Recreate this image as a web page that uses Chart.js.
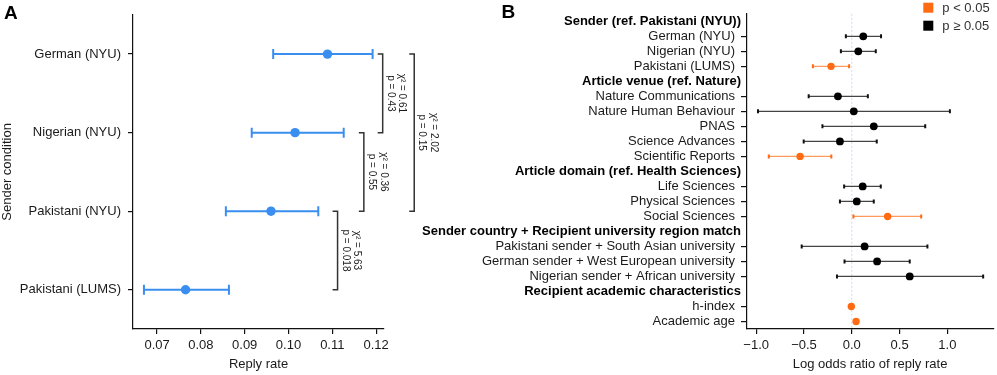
<!DOCTYPE html>
<html><head><meta charset="utf-8">
<script src="https://cdn.jsdelivr.net/npm/chart.js@4.4.1/dist/chart.umd.min.js"></script>
<style>
html,body{margin:0;padding:0;background:#fff;}
#wrap{position:relative;width:997px;height:375px;overflow:hidden;}
#cA{position:absolute;left:0;top:0;}
#cB{position:absolute;left:400px;top:0;}
</style></head><body>
<div id="wrap"><canvas id="cA" width="500" height="375"></canvas><canvas id="cB" width="597" height="375"></canvas></div>
<script>
// ---------- Panel A data ----------
const senderLabels = ['German (NYU)', 'Nigerian (NYU)', 'Pakistani (NYU)', 'Pakistani (LUMS)'];
const replyRate    = [0.1089, 0.1015, 0.0960, 0.0765];
const replyLow     = [0.0965, 0.0916, 0.0857, 0.0670];
const replyHigh    = [0.1192, 0.1126, 0.1068, 0.0864];
const replyTicks   = [0.07, 0.08, 0.09, 0.10, 0.11, 0.12];
// pairwise comparisons (row indices) and test results
const compFrom = [0, 1, 0, 2];
const compTo   = [1, 2, 2, 3];
const compChi  = ['0.61', '0.36', '2.02', '5.63'];
const compP    = ['0.43', '0.55', '0.15', '0.018'];

// ---------- Panel B data ----------
const rowLabels = [
  'Sender (ref. Pakistani (NYU))', 'German (NYU)', 'Nigerian (NYU)', 'Pakistani (LUMS)',
  'Article venue (ref. Nature)', 'Nature Communications', 'Nature Human Behaviour', 'PNAS', 'Science Advances', 'Scientific Reports',
  'Article domain (ref. Health Sciences)', 'Life Sciences', 'Physical Sciences', 'Social Sciences',
  'Sender country + Recipient university region match', 'Pakistani sender + South Asian university', 'German sender + West European university', 'Nigerian sender + African university',
  'Recipient academic characteristics', 'h-index', 'Academic age'
];
const rowIsHeader = [true,false,false,false, true,false,false,false,false,false, true,false,false,false, true,false,false,false, true,false,false];
const logOdds = [null, 0.120, 0.068, -0.217, null, -0.145, 0.021, 0.230, -0.124, -0.541, null, 0.114, 0.052, 0.375, null, 0.134, 0.265, 0.606, null, -0.005, 0.045];
const ciLow   = [null, -0.062, -0.114, -0.407, null, -0.451, -0.981, -0.307, -0.503, -0.868, null, -0.080, -0.124, 0.017, null, -0.524, -0.076, -0.155, null, -0.010, 0.025];
const ciHigh  = [null, 0.306, 0.251, -0.028, null, 0.168, 1.026, 0.768, 0.261, -0.214, null, 0.303, 0.230, 0.726, null, 0.791, 0.606, 1.374, null, 0.000, 0.065];
const pBelow05 = [null, false, false, true, null, false, false, false, false, true, null, false, false, true, null, false, false, false, null, true, true];
const logOddsTicks = [-1.0, -0.5, 0.0, 0.5, 1.0];
const legendLabels = ['p < 0.05', 'p \u2265 0.05'];

// ---------- Styles / layout ----------
const FONT = '"Liberation Sans", Arial, Helvetica, sans-serif';
const TXT = '#1a1a1a';
const AX = '#111';
const BLUE = '#3a8ef0';
const ORANGE = '#ff6a13';
const ORANGE_LINE = '#ff9a5c';
const BLACK_LINE = '#444';
const bracketX = [0.1215, 0.1172, 0.1287, 0.1112]; // bracket positions (x data units)

const fontN = {family: FONT, size: 13};

// ---------- Panel A plugin ----------
const plugA = {
  id: 'plugA',
  beforeDatasetsDraw(chart) {
    const {ctx, scales: {x, y}} = chart;
    ctx.save();
    ctx.strokeStyle = BLUE; ctx.lineWidth = 2;
    replyRate.forEach((v, i) => {
      const py = y.getPixelForValue(i);
      const x0 = x.getPixelForValue(replyLow[i]);
      const x1 = x.getPixelForValue(replyHigh[i]);
      ctx.beginPath();
      ctx.moveTo(x0, py); ctx.lineTo(x1, py);
      ctx.moveTo(x0, py - 5); ctx.lineTo(x0, py + 5);
      ctx.moveTo(x1, py - 5); ctx.lineTo(x1, py + 5);
      ctx.stroke();
    });
    ctx.restore();
  },
  afterDraw(chart) {
    const {ctx, scales: {x, y}} = chart;
    ctx.save();
    // brackets
    compFrom.forEach((f, k) => {
      const xb = x.getPixelForValue(bracketX[k]);
      const y0 = y.getPixelForValue(f);
      const y1 = y.getPixelForValue(compTo[k]);
      ctx.strokeStyle = '#333'; ctx.lineWidth = 1.5;
      ctx.beginPath();
      ctx.moveTo(xb - 5, y0); ctx.lineTo(xb, y0); ctx.lineTo(xb, y1); ctx.lineTo(xb - 5, y1);
      ctx.stroke();
      ctx.save();
      ctx.translate(xb + 13.7, (y0 + y1) / 2);
      ctx.rotate(Math.PI / 2);
      ctx.fillStyle = TXT;
      ctx.font = '10px ' + FONT;
      ctx.textAlign = 'center'; ctx.textBaseline = 'middle';
      ctx.fillText('\u03c7\u00b2 = ' + compChi[k], 0, -5.8);
      ctx.fillText('p = ' + compP[k], 0, 5.8);
      ctx.restore();
    });
    // panel letter
    ctx.fillStyle = '#000';
    ctx.font = 'bold 19px ' + FONT;
    ctx.textAlign = 'left'; ctx.textBaseline = 'alphabetic';
    ctx.fillText('A', 4, 19);
    ctx.restore();
  }
};

new Chart(document.getElementById('cA'), {
  type: 'scatter',
  data: {
    datasets: [{
      label: 'Reply rate',
      data: replyRate.map((v, i) => ({x: v, y: senderLabels[i]})),
      backgroundColor: BLUE, borderColor: BLUE, borderWidth: 0,
      pointRadius: 4.7, pointHoverRadius: 4.7
    }]
  },
  options: {
    responsive: false, animation: false,
    layout: {padding: {left: 0, right: 116, top: 8, bottom: 0}},
    plugins: {legend: {display: false}, tooltip: {enabled: false}},
    scales: {
      x: {
        type: 'linear', min: 0.0645, max: 0.1218,
        afterBuildTicks: s => { s.ticks = replyTicks.map(v => ({value: v})); },
        afterFit: s => { s.height = 46; },
        ticks: {callback: v => Number(v).toFixed(2), font: fontN, color: TXT, padding: 4, maxRotation: 0, autoSkip: false},
        grid: {drawOnChartArea: false, drawTicks: true, tickLength: 5, color: AX, lineWidth: 1.2},
        border: {display: true, color: AX, width: 1.2},
        title: {display: true, text: 'Reply rate', font: fontN, color: TXT, padding: {top: 0, bottom: 3}}
      },
      y: {
        type: 'category', labels: senderLabels, offset: true,
        afterFit: s => { s.width = 133; },
        ticks: {font: fontN, color: TXT, padding: 7, autoSkip: false},
        grid: {offset: false, drawOnChartArea: false, drawTicks: true, tickLength: 5, color: AX, lineWidth: 1.2},
        border: {display: true, color: AX, width: 1.2},
        title: {display: true, text: 'Sender condition', font: fontN, color: TXT, padding: {top: 0, bottom: 0}}
      }
    }
  },
  plugins: [plugA]
});

// ---------- Panel B plugin ----------
const plugB = {
  id: 'plugB',
  beforeDatasetsDraw(chart) {
    const {ctx, chartArea, scales: {x, y}} = chart;
    ctx.save();
    // zero reference line
    const x0 = x.getPixelForValue(0);
    ctx.strokeStyle = '#c9ddf6'; ctx.lineWidth = 1; ctx.setLineDash([2, 2]);
    ctx.beginPath(); ctx.moveTo(x0, chartArea.top); ctx.lineTo(x0, chartArea.bottom); ctx.stroke();
    ctx.setLineDash([]);
    // confidence intervals
    logOdds.forEach((v, i) => {
      if (v === null) return;
      const py = y.getPixelForValue(i);
      const a = x.getPixelForValue(ciLow[i]);
      const b = x.getPixelForValue(ciHigh[i]);
      const sig = pBelow05[i];
      ctx.strokeStyle = sig ? ORANGE_LINE : BLACK_LINE;
      ctx.lineWidth = sig ? 1.2 : 1.3;
      ctx.beginPath(); ctx.moveTo(a, py); ctx.lineTo(b, py); ctx.stroke();
      ctx.strokeStyle = sig ? ORANGE : '#111';
      ctx.lineWidth = 2;
      ctx.beginPath();
      ctx.moveTo(a, py - 2); ctx.lineTo(a, py + 2);
      ctx.moveTo(b, py - 2); ctx.lineTo(b, py + 2);
      ctx.stroke();
    });
    ctx.restore();
  },
  afterDraw(chart) {
    const {ctx, scales: {y}} = chart;
    ctx.save();
    // bold group headers
    ctx.fillStyle = '#000';
    ctx.font = 'bold 13px ' + FONT;
    ctx.textAlign = 'right'; ctx.textBaseline = 'middle';
    rowLabels.forEach((l, i) => {
      if (rowIsHeader[i]) ctx.fillText(l, 341, y.getPixelForValue(i));
    });
    // legend
    const cols = [ORANGE, '#000'];
    const ys = [8, 26];
    ctx.font = '13px ' + FONT;
    ctx.textAlign = 'left';
    legendLabels.forEach((t, k) => {
      ctx.fillStyle = cols[k];
      ctx.fillRect(523.3, ys[k] - 5.3, 10, 10);
      ctx.fillStyle = '#333';
      ctx.fillText(t, 542.3, ys[k]);
    });
    // panel letter
    ctx.fillStyle = '#000';
    ctx.font = 'bold 19px ' + FONT;
    ctx.textBaseline = 'alphabetic';
    ctx.fillText('B', 101.5, 18);
    ctx.restore();
  }
};

const sigPts = [], nsPts = [];
logOdds.forEach((v, i) => {
  if (v === null) return;
  (pBelow05[i] ? sigPts : nsPts).push({x: v, y: rowLabels[i]});
});

new Chart(document.getElementById('cB'), {
  type: 'scatter',
  data: {
    datasets: [
      {label: legendLabels[0], data: sigPts, backgroundColor: ORANGE, borderColor: ORANGE, borderWidth: 0, pointRadius: 3.7, pointHoverRadius: 3.7},
      {label: legendLabels[1], data: nsPts, backgroundColor: '#000', borderColor: '#000', borderWidth: 0, pointRadius: 3.9, pointHoverRadius: 3.9}
    ]
  },
  options: {
    responsive: false, animation: false,
    layout: {padding: {left: 0, right: 1, top: 8, bottom: 0}},
    plugins: {legend: {display: false}, tooltip: {enabled: false}},
    scales: {
      x: {
        type: 'linear', min: -1.096, max: 1.478,
        afterBuildTicks: s => { s.ticks = logOddsTicks.map(v => ({value: v})); },
        afterFit: s => { s.height = 46; },
        ticks: {
          callback: v => (v < 0 ? '\u2212' + Math.abs(v).toFixed(1) : Number(v).toFixed(1)),
          font: fontN, color: TXT, padding: 4, maxRotation: 0, autoSkip: false
        },
        grid: {drawOnChartArea: false, drawTicks: true, tickLength: 5, color: AX, lineWidth: 1.2},
        border: {display: true, color: AX, width: 1.2},
        title: {display: true, text: 'Log odds ratio of reply rate', font: fontN, color: TXT, padding: {top: 0, bottom: 3}}
      },
      y: {
        type: 'category', labels: rowLabels, offset: true,
        afterFit: s => { s.width = 347; },
        ticks: {
          callback: (v, i) => (rowIsHeader[i] ? '' : rowLabels[i]),
          font: fontN, color: TXT, padding: 6, autoSkip: false
        },
        grid: {
          offset: false, drawOnChartArea: false, drawTicks: true, tickLength: 6, lineWidth: 1.2, color: AX,
          tickColor: c => (rowIsHeader[c.index] ? 'rgba(0,0,0,0)' : AX)
        },
        border: {display: true, color: AX, width: 1.2}
      }
    }
  },
  plugins: [plugB]
});
</script>
</body></html>
